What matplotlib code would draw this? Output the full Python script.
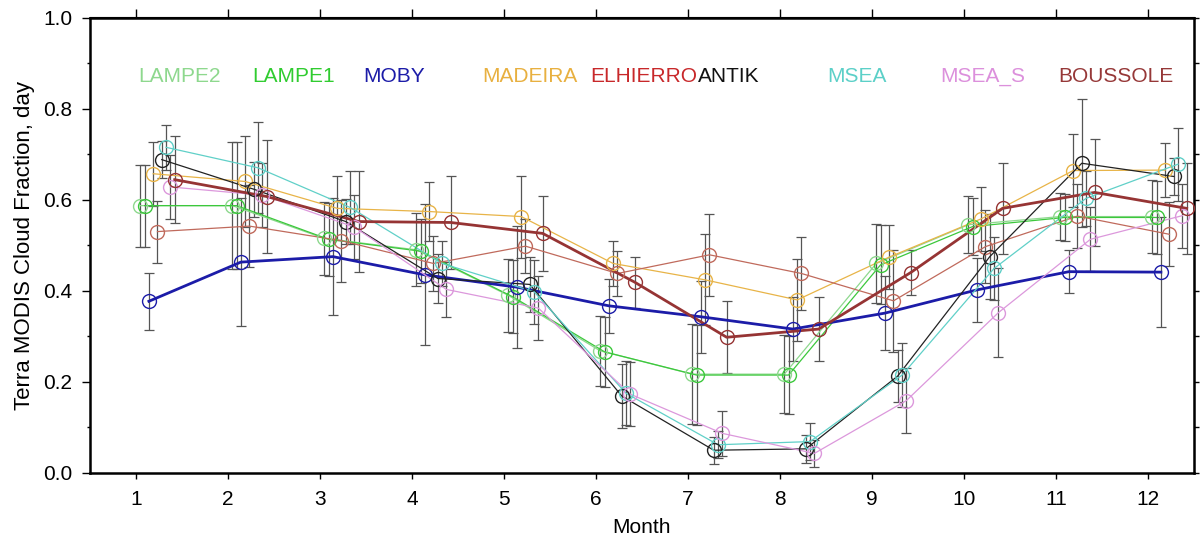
import numpy as np
import matplotlib
matplotlib.use("Agg")
import matplotlib.pyplot as plt

plt.rcParams['font.family'] = ['Liberation Sans', 'DejaVu Sans']

months = np.arange(1, 13)

# monthly mean cloud fraction per site
lampe2 = [0.587, 0.587, 0.515, 0.490, 0.390, 0.268, 0.217, 0.217, 0.460, 0.545, 0.563, 0.563]
lampe1 = [0.587, 0.587, 0.513, 0.487, 0.387, 0.266, 0.215, 0.215, 0.457, 0.541, 0.561, 0.561]
moby = [0.377, 0.463, 0.475, 0.435, 0.408, 0.367, 0.343, 0.316, 0.351, 0.402, 0.442, 0.441]
madeira = [0.657, 0.640, 0.581, 0.574, 0.563, 0.460, 0.424, 0.380, 0.474, 0.558, 0.664, 0.665]
elhierro = [0.530, 0.542, 0.510, 0.460, 0.498, 0.438, 0.479, 0.438, 0.378, 0.497, 0.564, 0.524]
antik = [0.688, 0.623, 0.552, 0.427, 0.414, 0.169, 0.050, 0.053, 0.213, 0.475, 0.680, 0.651]
msea = [0.715, 0.670, 0.583, 0.460, 0.398, 0.175, 0.062, 0.069, 0.215, 0.449, 0.603, 0.678]
msea_s = [0.628, 0.610, 0.540, 0.403, 0.362, 0.173, 0.087, 0.043, 0.159, 0.352, 0.513, 0.565]
boussole = [0.644, 0.607, 0.552, 0.550, 0.526, 0.419, 0.298, 0.316, 0.440, 0.581, 0.616, 0.581]

# standard deviations (error bars)
lampe2_err = [0.090, 0.140, 0.080, 0.080, 0.080, 0.077, 0.110, 0.086, 0.087, 0.063, 0.052, 0.080]
lampe1_err = [0.090, 0.140, 0.080, 0.070, 0.080, 0.077, 0.110, 0.086, 0.087, 0.063, 0.052, 0.080]
moby_err = [0.062, 0.140, 0.128, 0.155, 0.134, 0.060, 0.079, 0.070, 0.081, 0.071, 0.047, 0.120]
madeira_err = [0.070, 0.100, 0.070, 0.064, 0.090, 0.050, 0.100, 0.090, 0.070, 0.070, 0.080, 0.060]
elhierro_err = [0.068, 0.090, 0.090, 0.060, 0.060, 0.050, 0.090, 0.080, 0.112, 0.080, 0.070, 0.070]
antik_err = [0.040, 0.060, 0.050, 0.053, 0.060, 0.070, 0.030, 0.030, 0.058, 0.094, 0.140, 0.040]
msea_err = [0.050, 0.100, 0.080, 0.050, 0.070, 0.070, 0.030, 0.040, 0.070, 0.070, 0.060, 0.080]
msea_s_err = [0.070, 0.070, 0.070, 0.060, 0.070, 0.070, 0.050, 0.030, 0.072, 0.097, 0.070, 0.070]
boussole_err = [0.096, 0.124, 0.110, 0.103, 0.083, 0.056, 0.079, 0.070, 0.050, 0.100, 0.117, 0.100]

sites = ['LAMPE2', 'LAMPE1', 'MOBY', 'MADEIRA', 'ELHIERRO', 'ANTIK', 'MSEA', 'MSEA_S', 'BOUSSOLE']
values = [lampe2, lampe1, moby, madeira, elhierro, antik, msea, msea_s, boussole]
errors = [lampe2_err, lampe1_err, moby_err, madeira_err, elhierro_err,
          antik_err, msea_err, msea_s_err, boussole_err]
line_colors = ['#8ed88e', '#3cc83c', '#1c1ca8', '#e8b448', '#c06a5c',
               '#222222', '#60d0c8', '#dc98dc', '#963434']
label_colors = ['#8ed88e', '#30cc30', '#1c1ca8', '#e8b040', '#c8282a',
                '#111111', '#5cd0c8', '#dc90dc', '#963838']
widths = [0.9, 0.9, 2.0, 0.9, 0.9, 0.9, 0.9, 0.9, 2.0]
label_x = [138, 252, 363, 482, 590, 698, 827, 940, 1058]  # pixel left edge of each site name

fig = plt.figure(figsize=(12.03, 5.41), dpi=100)
ax = fig.add_axes([90/1203, 1 - 473/541, 1104/1203, 455.5/541])

for i, (name, v, e) in enumerate(zip(sites, values, errors)):
    x = months + 0.0467 * (i + 1)
    ax.errorbar(x, v, yerr=e, fmt='none', ecolor='#555555', elinewidth=0.9,
                capsize=3.5, capthick=0.9, zorder=2)
    ax.plot(x, v, '-', color=line_colors[i], lw=widths[i], zorder=3)
    ax.plot(x, v, 'o', mfc='none', mec=line_colors[i], ms=10, mew=1.0, zorder=4)
    fig.text(label_x[i] / 1203, 1 - 77/541, name, color=label_colors[i],
             fontsize=15, ha='left', va='center')

ax.set_xlim(0.5, 12.5)
ax.set_ylim(0, 1)
ax.set_xticks(months)
ax.set_yticks(np.arange(0, 1.01, 0.2))
ax.set_yticks(np.arange(0.1, 1.0, 0.2), minor=True)
ax.yaxis.set_major_formatter(matplotlib.ticker.FormatStrFormatter('%.1f'))
ax.tick_params(axis='x', direction='out', length=4.5, width=1, labelsize=15, pad=8)
ax.tick_params(axis='y', which='major', direction='out', length=5.8, width=1,
               labelsize=15, pad=7)
ax.tick_params(axis='y', which='minor', direction='out', length=2.2, width=1)
for s in ax.spines.values():
    s.set_linewidth(1.8)

top = ax.secondary_xaxis('top')
top.set_xticks(months)
top.tick_params(direction='out', length=5.8, width=1, labeltop=False)
right = ax.secondary_yaxis('right')
right.set_yticks(np.arange(0, 1.01, 0.1))
right.tick_params(direction='out', length=3.6, width=1, labelright=False)

ax.set_xlabel('Month', fontsize=15, labelpad=6)
ax.set_ylabel('Terra MODIS Cloud Fraction, day', fontsize=16, labelpad=6)

fig.savefig('out.png', dpi=100)
